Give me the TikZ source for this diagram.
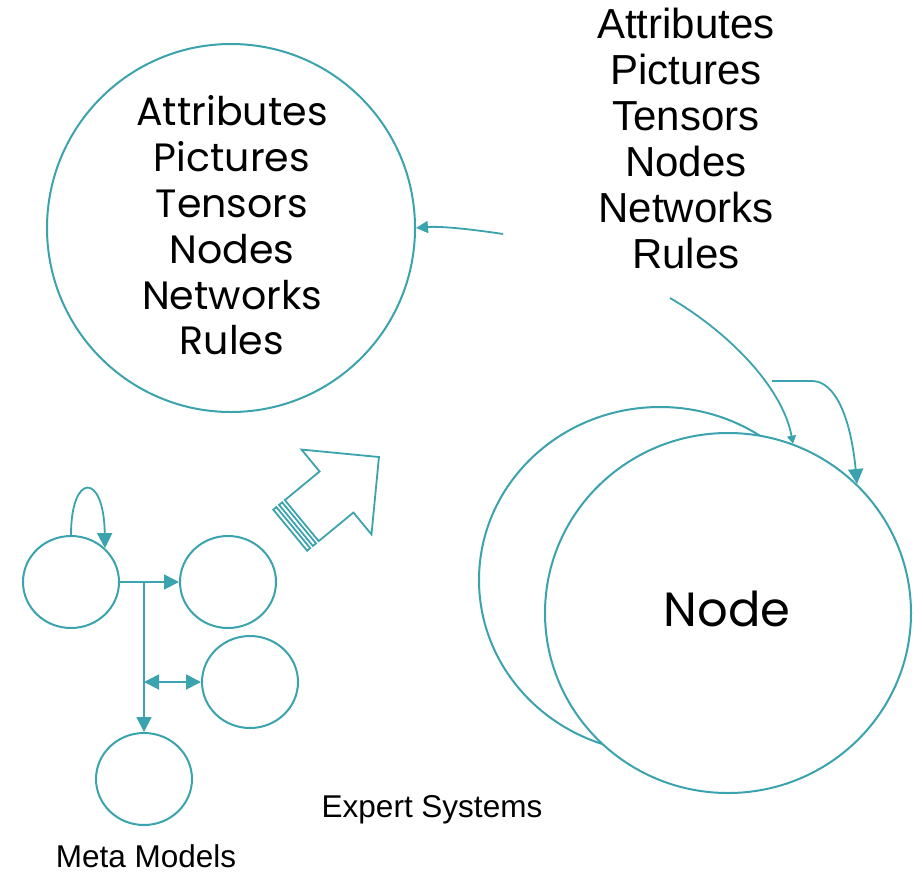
\documentclass[tikz,border=0pt]{standalone}
\usepackage{fontspec}
\setmainfont{Liberation Sans}
\newfontfamily\geo{Poppins}
\usetikzlibrary{arrows.meta,shapes.geometric}
\definecolor{teal}{RGB}{58,163,174}
\tikzset{
  ring/.style={draw=teal,line width=2pt,ellipse,inner sep=0pt,fill=white},
  link/.style={draw=teal,line width=1.8pt},
  tri/.tip={Triangle[length=15pt,width=15pt]},
  midtri/.tip={Triangle[length=12pt,width=12pt]},
  listtext/.style={align=center,text=black,font=\fontsize{42}{46}\selectfont},
  geotext/.style={align=center,text=black,font=\geo\fontsize{39.5}{45.8}\selectfont},
  caption/.style={text=black,font=\fontsize{31.5}{36}\selectfont}
}
\begin{document}
\begin{tikzpicture}[x=1pt,y=-1pt]
\useasboundingbox (0,0) rectangle (923,873);

% concept circle with its list
\node[ring,minimum width=368pt,minimum height=368pt] (concepts) at (231,228) {};
\node[geotext] (conceptlist) at (232,225.5)
  {Attributes\\Pictures\\Tensors\\Nodes\\Networks\\Rules};

% free-standing list
\node[listtext] (list) at (686,138)
  {Attributes\\Pictures\\Tensors\\Nodes\\Networks\\Rules};

% stacked node ellipses
\node[ring,minimum width=362pt,minimum height=346pt] (back) at (660,580) {};
\node[ring,minimum width=366pt,minimum height=360pt] (front) at (728,613) {};
\node[text=black,font=\geo\fontsize{48}{54}\selectfont] (nodelabel) at (727,609) {Node};

% connectors around the list
\coordinate (lstart) at (503,234);
\draw[link,-midtri] (lstart) .. controls (470,229) and (440,226) .. (concepts.east);

\coordinate (dstart) at (670,298);
\draw[link,-{Triangle[length=8pt,width=9pt]}] (dstart) .. controls (725,330) and (782,385) .. (front.69.6);

\coordinate (hstart) at (772,381);
\coordinate (hbend) at (812,381);
\draw[link,-tri] (hstart) -- (hbend) .. controls (836,381) and (851,420) .. (front.45);

% small meta-model graph
\node[ring,minimum width=96pt,minimum height=92pt] (m1) at (71,582) {};
\node[ring,minimum width=96pt,minimum height=92pt] (m2) at (228,582) {};
\node[ring,minimum width=96pt,minimum height=92pt] (m3) at (250,682) {};
\node[ring,minimum width=96pt,minimum height=92pt] (m4) at (144,779) {};

\draw[link,-tri] (m1.north) .. controls (71,472) and (104,472) .. (m1.45);
\draw[link,-tri] (m1.east) -- (m2.west);
\coordinate (branch) at (144,582);
\coordinate (mid) at (144,682);
\draw[link,-tri] (branch) -- (m4.north);
\draw[link,tri-tri] (mid) -- (m3.west);

% striped block arrow
\begin{scope}[shift={(336.5,492)},rotate=39.5,draw=teal,line width=1.8pt,line join=miter]
  \draw (55,0) -- (0,-55) -- (0,-26.6) -- (-45,-26.6) -- (-45,26.6) -- (0,26.6) -- (0,55) -- cycle;
  \draw (-48.5,-26.6) rectangle (-52.5,26.6);
  \draw (-56,-26.6) rectangle (-60,26.6);
\end{scope}

% captions
\node[caption] (expert) at (432,810) {Expert Systems};
\node[caption] (meta) at (146,856) {Meta Models};
\end{tikzpicture}
\end{document}
